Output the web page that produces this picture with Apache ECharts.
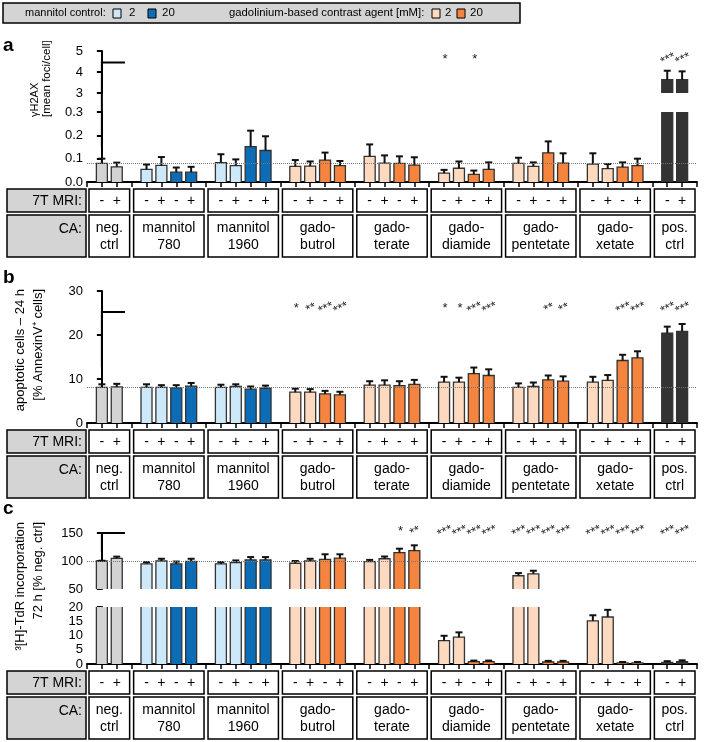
<!DOCTYPE html>
<html>
<head>
<meta charset="utf-8">
<script src="https://cdn.jsdelivr.net/npm/echarts@6/dist/echarts.min.js"></script>
<style>
html,body{margin:0;padding:0;background:#fff;}
#chart{width:709px;height:742px;}
</style>
</head>
<body>
<div id="chart"></div>
<script>
// groups of bars (CA) and the 7T MRI row
var groupNames = ['neg.\nctrl', 'mannitol\n780', 'mannitol\n1960', 'gado-\nbutrol', 'gado-\nterate', 'gado-\ndiamide', 'gado-\npentetate', 'gado-\nxetate', 'pos.\nctrl'];
var groupSizes = [2, 4, 4, 4, 4, 4, 4, 4, 2];
var groupKinds = ['neg', 'mannitol', 'mannitol', 'gado', 'gado', 'gado', 'gado', 'gado', 'pos'];
var mriSigns = ['-', '+', '-', '+'];

// a: gammaH2AX [mean foci/cell]
var aMean = [0.080, 0.065, 0.054, 0.071, 0.042, 0.042, 0.083, 0.070, 0.152, 0.135, 0.067, 0.068, 0.094, 0.070, 0.110, 0.081, 0.080, 0.072, 0.038, 0.059, 0.033, 0.054, 0.080, 0.067, 0.125, 0.081, 0.077, 0.057, 0.064, 0.070, 3.63, 3.63];
var aSem  = [0.020, 0.018, 0.021, 0.036, 0.020, 0.023, 0.036, 0.027, 0.068, 0.061, 0.027, 0.020, 0.032, 0.020, 0.051, 0.033, 0.030, 0.034, 0.014, 0.029, 0.016, 0.030, 0.024, 0.017, 0.049, 0.042, 0.046, 0.020, 0.020, 0.030, 0.43, 0.40];
var aStars = ['', '', '', '', '', '', '', '', '', '', '', '', '', '', '', '', '', '', '*', '', '*', '', '', '', '', '', '', '', '', '', '***', '***'];

// b: apoptotic cells 24 h [% AnnexinV+ cells]
var bMean = [8.1, 8.2, 8.1, 8.1, 8.0, 8.4, 8.1, 8.3, 7.7, 7.9, 7.0, 7.0, 6.6, 6.4, 8.6, 8.6, 8.5, 8.8, 9.3, 9.3, 11.2, 10.8, 8.1, 8.3, 9.8, 9.5, 9.3, 9.7, 14.2, 14.8, 20.4, 20.8];
var bSem  = [0.7, 0.7, 0.7, 0.5, 0.6, 0.7, 0.6, 0.5, 0.6, 0.6, 0.8, 0.7, 0.7, 0.7, 0.9, 1.1, 1.0, 1.0, 1.2, 1.0, 1.4, 1.4, 0.9, 0.9, 1.0, 1.1, 1.2, 1.2, 1.3, 1.5, 1.5, 1.7];
var bStars = ['', '', '', '', '', '', '', '', '', '', '*', '**', '***', '***', '', '', '', '', '*', '*', '***', '***', '', '', '**', '**', '', '', '***', '***', '***', '***'];

// c: 3[H]-TdR incorporation 72 h [% neg. ctrl]
var cMean = [100, 104.8, 95, 100, 95, 99.5, 95, 97, 102, 102, 96, 100, 103, 105, 99, 104, 115, 118.5, 8.2, 9.4, 0.8, 0.8, 73.7, 77, 0.7, 0.7, 15.1, 16.5, 0.4, 0.4, 0.6, 0.8];
var cSem  = [0.5, 3, 3, 4, 4, 4.5, 3, 4, 5, 5, 4, 4, 9, 7, 3, 4, 7, 9.5, 1.7, 1.7, 0.4, 0.4, 4.7, 5.6, 0.4, 0.4, 2.0, 2.5, 0.3, 0.3, 0.4, 0.5];
var cStars = ['', '', '', '', '', '', '', '', '', '', '', '', '', '', '', '', '*', '**', '***', '***', '***', '***', '***', '***', '***', '***', '***', '***', '***', '***', '***', '***'];

var FONT = 'Liberation Sans, Arial, sans-serif';
var colors = {neg: '#d3d3d3', m2: '#cde8f8', m20: '#0c6cb5', g2: '#fdd9bf', g20: '#f5843e', pos: '#333333'};

function barColor(kind, i) {
    if (kind === 'neg') return colors.neg;
    if (kind === 'pos') return colors.pos;
    if (kind === 'mannitol') return i < 2 ? colors.m2 : colors.m20;
    return i < 2 ? colors.g2 : colors.g20;
}

// slot positions on the x axis: one empty slot between groups
var slotX = [], barCol = [], groupStart = [];
var p = 0;
groupSizes.forEach(function (n, g) {
    groupStart.push(p);
    for (var i = 0; i < n; i++) {
        slotX.push(p + i);
        barCol.push(barColor(groupKinds[g], i));
    }
    p += n + 1;
});
var xMax = p - 1;

var panels = [
    {label: 'a', labelY: 46, mean: aMean, sem: aSem, stars: aStars, refLine: 0.08,
     segs: [{top: 51, height: 42, min: 3, max: 5, interval: 1},
            {top: 112, height: 70, min: 0, max: 0.3, interval: 0.1, digits: 1}],
     starSeg: 0, starVal: 4.6, bracket: [1, 0.15, 0, 4.45],
     titles: [{text: 'γH2AX', x: 35, y: 117, align: 'left', size: 11},
              {text: '[mean foci/cell]', x: 47, y: 117, align: 'left', size: 11.5}]},
    {label: 'b', labelY: 278, mean: bMean, sem: bSem, stars: bStars, refLine: 8.1,
     segs: [{top: 291, height: 132, min: 0, max: 30, interval: 10}],
     starSeg: 0, starVal: 26, bracket: [0, 12.7, 0, 25.2],
     titles: [{text: 'apoptotic cells – 24 h', x: 20, y: 289, align: 'right', size: 13},
              {text: '[% AnnexinV⁺ cells]', x: 38, y: 289, align: 'right', size: 13}]},
    {label: 'c', labelY: 509, mean: cMean, sem: cSem, stars: cStars, refLine: 100,
     segs: [{top: 533, height: 56, min: 50, max: 150, interval: 50},
            {top: 607, height: 57, min: 0, max: 20, interval: 5}],
     starSeg: 0, starVal: 152, bracket: [0, 116, 0, 150],
     titles: [{text: '³[H]-TdR incorporation', x: 20, y: 522, align: 'right', size: 13},
              {text: '72 h [% neg. ctrl]', x: 38, y: 522, align: 'right', size: 13}]}
];

// bars as custom marks so a cut bar has no outline at the break
function barRenderer(sg) {
    return function (params, api) {
        var x = api.value(0), v = api.value(1), k = api.value(2);
        var pT = api.coord([x, Math.min(v, sg.max)]);
        var pB = api.coord([x, Math.max(0, sg.min)]);
        var xl = pT[0] - 5.5, xr = pT[0] + 5.5;
        var stroke = {stroke: '#333', lineWidth: 1.3, fill: null};
        var kids = [{type: 'rect', shape: {x: xl, y: pT[1], width: xr - xl, height: pB[1] - pT[1]}, style: {fill: barCol[k]}}];
        if (v <= sg.max) {
            kids.push({type: 'polyline', shape: {points: [[xl, pB[1]], [xl, pT[1]], [xr, pT[1]], [xr, pB[1]]]}, style: stroke});
        } else {
            kids.push({type: 'line', shape: {x1: xl, y1: pB[1], x2: xl, y2: pT[1]}, style: stroke});
            kids.push({type: 'line', shape: {x1: xr, y1: pB[1], x2: xr, y2: pT[1]}, style: stroke});
        }
        return {type: 'group', children: kids};
    };
}

var grids = [], xAxes = [], yAxes = [], series = [];
panels.forEach(function (pn) {
    pn.gridIdx = [];
    pn.segs.forEach(function (sg, si) {
        var gi = grids.length;
        pn.gridIdx.push(gi);
        var isBottom = si === pn.segs.length - 1;
        grids.push({left: 87, width: 610, top: sg.top, height: sg.height});
        xAxes.push({
            type: 'value', gridIndex: gi, min: -1, max: xMax, interval: 1, show: isBottom,
            axisLine: {show: true, onZero: false, lineStyle: {color: '#000', width: 2}},
            axisTick: {show: true, length: 5, lineStyle: {color: '#000', width: 1.5}},
            axisLabel: {show: false}, splitLine: {show: false}
        });
        yAxes.push({
            type: 'value', gridIndex: gi, min: sg.min, max: sg.max, interval: sg.interval,
            axisLine: {show: true, lineStyle: {color: '#000', width: 2}},
            axisTick: {show: true, length: 5, lineStyle: {color: '#000', width: 2}},
            axisLabel: {color: '#000', fontSize: 13, fontFamily: FONT, margin: 4,
                formatter: function (v) { return sg.digits ? v.toFixed(sg.digits) : String(v); }},
            splitLine: {show: false}
        });

        var bars = [], errs = [];
        slotX.forEach(function (x, k) {
            var m = pn.mean[k];
            if (m > sg.min) bars.push([x, m, k]);
            if (m >= sg.min && m <= sg.max) errs.push([x, m, pn.sem[k]]);
        });
        var barSeries = {
            type: 'custom', xAxisIndex: gi, yAxisIndex: gi, silent: true, data: bars,
            renderItem: barRenderer(sg)
        };
        if (pn.refLine >= sg.min && pn.refLine <= sg.max) {
            barSeries.markLine = {
                silent: true, symbol: 'none', label: {show: false},
                lineStyle: {type: 'dotted', color: '#777', width: 1},
                data: [{yAxis: pn.refLine}]
            };
        }
        series.push(barSeries);
        series.push({
            type: 'custom', xAxisIndex: gi, yAxisIndex: gi, silent: true, data: errs,
            renderItem: function (params, api) {
                var x = api.value(0), m = api.value(1), e = api.value(2);
                var p0 = api.coord([x, m]), p1 = api.coord([x, m + e]);
                return {type: 'group', children: [
                    {type: 'line', shape: {x1: p0[0], y1: p0[1], x2: p1[0], y2: p1[1]}, style: {stroke: '#111', lineWidth: 2}},
                    {type: 'line', shape: {x1: p1[0] - 3.5, y1: p1[1], x2: p1[0] + 3.5, y2: p1[1]}, style: {stroke: '#111', lineWidth: 2}}
                ]};
            }
        });
        if (si === pn.starSeg) {
            var starData = [];
            slotX.forEach(function (x, k) { if (pn.stars[k]) starData.push([x, pn.starVal, k]); });
            var st = pn.stars;
            series.push({
                type: 'custom', xAxisIndex: gi, yAxisIndex: gi, silent: true, clip: false, data: starData,
                renderItem: function (params, api) {
                    var pt = api.coord([api.value(0), api.value(1)]);
                    var txt = st[api.value(2)];
                    return {type: 'text', x: pt[0] + 1, y: pt[1], rotation: txt.length > 1 ? 0.45 : 0,
                        style: {text: txt, fontSize: 13, fontFamily: FONT, fill: '#222', align: 'center', verticalAlign: 'middle', letterSpacing: -1}};
                }
            });
        }
    });
});

var chart = echarts.init(document.getElementById('chart'));
chart.setOption({
    animation: false,
    backgroundColor: '#fff',
    grid: grids, xAxis: xAxes, yAxis: yAxes, series: series
});

// helpers for annotation graphics
function px(v) { return chart.convertToPixel({gridIndex: 0}, [v, 3])[0]; }
function rect(x, y, w, h, fill, lw) {
    return {type: 'rect', shape: {x: x, y: y, width: w, height: h}, style: {fill: fill, stroke: '#000', lineWidth: lw || 1.5}, silent: true};
}
function text(t, x, y, align, size, extra) {
    var s = {text: t, x: 0, y: 0, fill: '#000', fontSize: size, fontFamily: FONT, align: align, verticalAlign: 'middle'};
    if (extra) for (var k in extra) s[k] = extra[k];
    return {type: 'text', x: x, y: y, style: s, silent: true};
}

var g = [];
// legend box on top
g.push(rect(3, 3, 517, 20, '#d4d4d4'));
g.push(text('mannitol control:', 25, 13, 'left', 11));
g.push(rect(113, 9, 8, 9, colors.m2, 1));
g.push(text('2', 129, 13, 'left', 11.5));
g.push(rect(148, 9, 8, 9, colors.m20, 1));
g.push(text('20', 162, 13, 'left', 11.5));
g.push(text('gadolinium-based contrast agent [mM]:', 229, 13, 'left', 11.3));
g.push(rect(432, 9, 8, 9, colors.g2, 1));
g.push(text('2', 445, 13, 'left', 11.5));
g.push(rect(457, 9, 8, 9, colors.g20, 1));
g.push(text('20', 470, 13, 'left', 11.5));

panels.forEach(function (pn) {
    g.push(text(pn.label, 3, pn.labelY, 'left', 19, {fontWeight: 'bold'}));
    pn.titles.forEach(function (t) {
        g.push({type: 'text', x: t.x, y: t.y, rotation: Math.PI / 2, silent: true,
            style: {text: t.text, fill: '#000', fontSize: t.size, fontFamily: FONT, align: t.align, verticalAlign: 'middle'}});
    });
    // bracket over neg. ctrl
    var b = pn.bracket;
    var lo = chart.convertToPixel({gridIndex: pn.gridIdx[b[0]]}, [0, b[1]]);
    var hi = chart.convertToPixel({gridIndex: pn.gridIdx[b[2]]}, [0, b[3]]);
    g.push({type: 'polyline', silent: true, shape: {points: [[lo[0], lo[1]], [hi[0], hi[1]], [px(1.55), hi[1]]]},
        style: {stroke: '#000', lineWidth: 2, fill: null}});

    // table under the axis
    var last = pn.segs[pn.segs.length - 1];
    var top = last.top + last.height + 7;
    var r1h = 23, r2top = top + 26, r2h = 42;
    var hx = 7, hr = px(-1) - 1;
    g.push(rect(hx, top, hr - hx, r1h, '#d4d4d4'));
    g.push(rect(hx, r2top, hr - hx, r2h, '#d4d4d4'));
    g.push(text('7T MRI:', hr - 4, top + r1h / 2 + 1, 'right', 14));
    g.push(text('CA:', hr - 4, r2top + 14, 'right', 14));
    groupStart.forEach(function (s, gi) {
        var n = groupSizes[gi];
        var x0 = px(s - 1) + 2, x1 = px(s + n) - 2;
        g.push(rect(x0, top, x1 - x0, r1h, '#fff'));
        g.push(rect(x0, r2top, x1 - x0, r2h, '#fff'));
        for (var i = 0; i < n; i++) {
            g.push(text(mriSigns[i], px(s + i), top + r1h / 2 + 1, 'center', 14));
        }
        g.push(text(groupNames[gi], (x0 + x1) / 2, r2top + r2h / 2 + 1, 'center', 14, {lineHeight: 17}));
    });
});

chart.setOption({graphic: g});
</script>
</body>
</html>
